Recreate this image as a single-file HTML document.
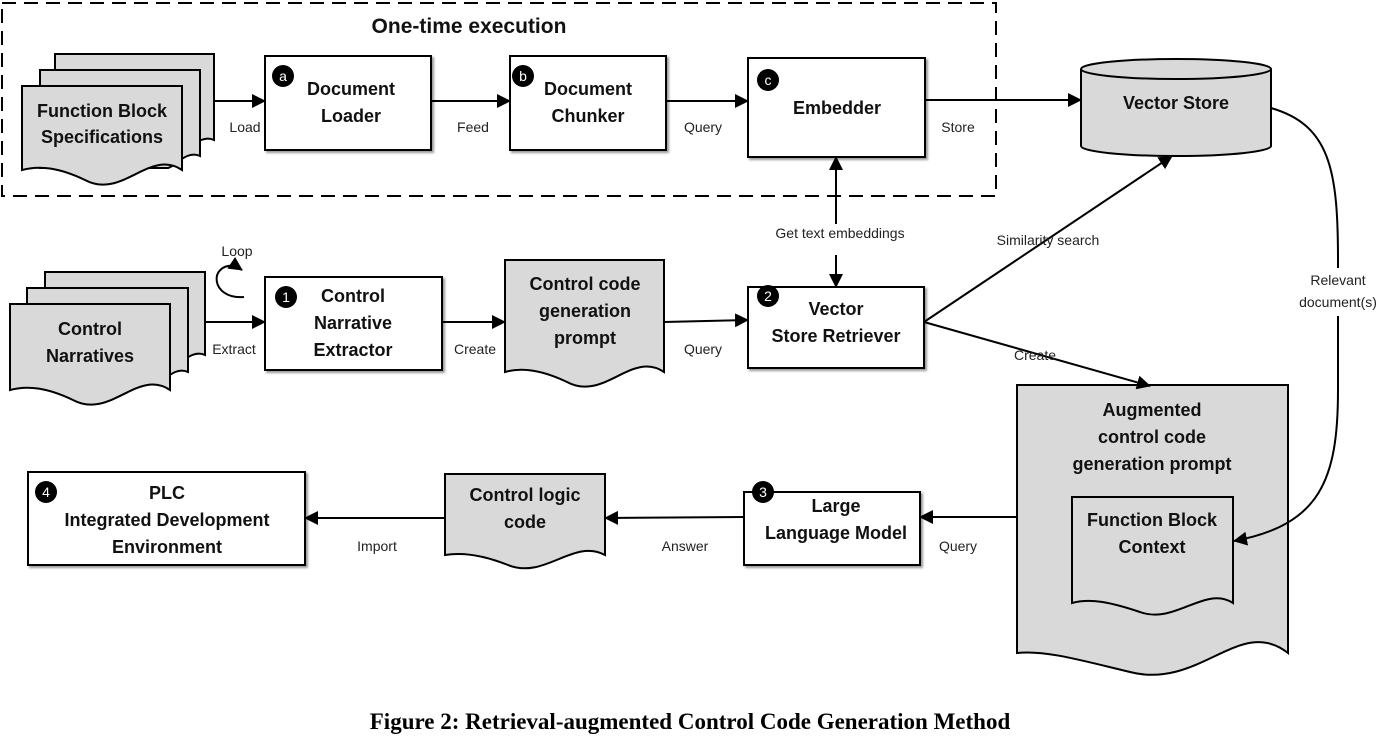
<!DOCTYPE html>
<html><head><meta charset="utf-8"><style>
html,body{margin:0;padding:0;background:#fff;width:1380px;height:745px;overflow:hidden}
svg text{font-family:"Liberation Sans",sans-serif}
.b{font-weight:bold;font-size:18px;text-anchor:middle;fill:#111}
.l{font-size:14px;text-anchor:middle;fill:#222}
.n{font-size:14px;text-anchor:middle;fill:#fff}
</style></head><body>
<svg width="1380" height="745" viewBox="0 0 1380 745" xmlns="http://www.w3.org/2000/svg">
<defs>
<marker id="ar2" markerWidth="14" markerHeight="14" refX="13" refY="7" orient="auto" markerUnits="userSpaceOnUse">
<path d="M0,0 L14,7 L0,14 z" fill="#000"/></marker>
</defs>
<rect x="2" y="3" width="994" height="193" fill="none" stroke="#000" stroke-width="2" stroke-dasharray="14,8"/>
<text x="469" y="33" class="b" style="font-size:21px">One-time execution</text>

<g fill="#d9d9d9" stroke="#000" stroke-width="2">
<path d="M55,54 H214 V140 C200,134 190,150 182,152 L55,152 Z"/>
<path d="M40,70 H200 V156 C186,150 176,166 168,168 L40,168 Z"/>
<path d="M22,86 H182 V170 C150,148 122,200 85,180 C60,168 40,165 22,170 Z"/>
<path d="M45,272 H205 V355 C191,349 181,365 173,367 L45,367 Z"/>
<path d="M27,288 H188 V372 C174,366 164,382 156,384 L27,384 Z"/>
<path d="M10,304 H170 V390 C138,368 110,420 73,400 C48,388 28,385 10,390 Z"/>
<path d="M505,260 H664 V372 C632,350 604,402 567,382 C542,370 522,367 505,372 Z"/>
<path d="M445,474 H605 V555 C573,538 545,580 508,565 C483,555 463,552 445,555 Z"/>
<path d="M1017,385 H1288 V653 C1240,615 1200,690 1130,672 C1080,660 1045,650 1017,653 Z"/>
<path d="M1072,497 H1233 V603 C1205,585 1175,625 1140,612 C1110,602 1090,598 1072,603 Z"/>
<path d="M1081,69 V146 A95,10 0 0 0 1271,146 V69" />
<ellipse cx="1176" cy="69" rx="95" ry="10"/>
</g>

<g fill="#fff" stroke="#000" stroke-width="2" style="filter:drop-shadow(2px 2px 1px #999)">
<rect x="265" y="56" width="166" height="94"/>
<rect x="510" y="56" width="156" height="94"/>
<rect x="748" y="58" width="177" height="99"/>
<rect x="265" y="277" width="177" height="93"/>
<rect x="748" y="287" width="176" height="81"/>
<rect x="744" y="492" width="176" height="73"/>
<rect x="28" y="472" width="277" height="93"/>
</g>

<g fill="#000">
<circle cx="283" cy="76" r="11"/><circle cx="523" cy="76" r="11"/><circle cx="768" cy="80" r="11"/>
<circle cx="286" cy="297" r="11"/><circle cx="768" cy="296" r="11"/><circle cx="763" cy="492" r="11"/><circle cx="46" cy="492" r="11"/>
</g>
<text x="283" y="81" class="n">a</text><text x="523" y="81" class="n">b</text><text x="768" y="85" class="n">c</text>
<text x="286" y="302" class="n">1</text><text x="768" y="301" class="n">2</text><text x="763" y="497" class="n">3</text><text x="46" y="497" class="n">4</text>

<g stroke="#000" stroke-width="2" fill="none">
<line x1="214" y1="101" x2="265" y2="101" marker-end="url(#ar2)"/>
<line x1="431" y1="101" x2="510" y2="101" marker-end="url(#ar2)"/>
<line x1="666" y1="101" x2="748" y2="101" marker-end="url(#ar2)"/>
<line x1="925" y1="100" x2="1081" y2="100" marker-end="url(#ar2)"/>
<line x1="836" y1="180" x2="836" y2="157" marker-end="url(#ar2)"/>
<line x1="836" y1="240" x2="836" y2="180"/>
<line x1="836" y1="255" x2="836" y2="287" marker-end="url(#ar2)"/>
<line x1="205" y1="322" x2="265" y2="322" marker-end="url(#ar2)"/>
<line x1="442" y1="322" x2="505" y2="322" marker-end="url(#ar2)"/>
<line x1="664" y1="322" x2="748" y2="320" marker-end="url(#ar2)"/>
<line x1="924" y1="322" x2="1172" y2="156" marker-end="url(#ar2)"/>
<line x1="924" y1="322" x2="1150" y2="386" marker-end="url(#ar2)"/>
<path d="M1271,108 C1330,125 1338,170 1338,260 V390 C1338,480 1320,525 1234,541" marker-end="url(#ar2)"/>
<line x1="1017" y1="517" x2="920" y2="517" marker-end="url(#ar2)"/>
<line x1="744" y1="517" x2="605" y2="518" marker-end="url(#ar2)"/>
<line x1="445" y1="518" x2="305" y2="518" marker-end="url(#ar2)"/>
<path d="M244,297 C210,300 208,262 236,266 L242,270" marker-end="url(#ar2)"/>
</g>
<rect x="1300" y="268" width="78" height="48" fill="#fff"/>
<rect x="760" y="224" width="160" height="18" fill="#fff"/>

<g class="b">
<text x="102" y="117" class="b">Function Block</text><text x="102" y="143" class="b">Specifications</text>
<text x="351" y="95" class="b">Document</text><text x="351" y="122" class="b">Loader</text>
<text x="588" y="95" class="b">Document</text><text x="588" y="122" class="b">Chunker</text>
<text x="837" y="114" class="b">Embedder</text>
<text x="1176" y="109" class="b">Vector Store</text>
<text x="90" y="335" class="b">Control</text><text x="90" y="362" class="b">Narratives</text>
<text x="353" y="302" class="b">Control</text><text x="353" y="329" class="b">Narrative</text><text x="353" y="356" class="b">Extractor</text>
<text x="585" y="290" class="b">Control code</text><text x="585" y="317" class="b">generation</text><text x="585" y="344" class="b">prompt</text>
<text x="836" y="315" class="b">Vector</text><text x="836" y="342" class="b">Store Retriever</text>
<text x="1152" y="416" class="b">Augmented</text><text x="1152" y="443" class="b">control code</text><text x="1152" y="470" class="b">generation prompt</text>
<text x="1152" y="526" class="b">Function Block</text><text x="1152" y="553" class="b">Context</text>
<text x="836" y="512" class="b">Large</text><text x="836" y="539" class="b">Language Model</text>
<text x="525" y="501" class="b">Control logic</text><text x="525" y="528" class="b">code</text>
<text x="167" y="499" class="b">PLC</text><text x="167" y="526" class="b">Integrated Development</text><text x="167" y="553" class="b">Environment</text>
</g>
<g>
<text x="245" y="132" class="l">Load</text><text x="473" y="132" class="l">Feed</text><text x="703" y="132" class="l">Query</text>
<text x="958" y="132" class="l">Store</text>
<text x="840" y="238" class="l">Get text embeddings</text>
<text x="1048" y="245" class="l">Similarity search</text>
<text x="1338" y="285" class="l">Relevant</text><text x="1338" y="307" class="l">document(s)</text>
<text x="237" y="256" class="l">Loop</text>
<text x="234" y="354" class="l">Extract</text><text x="475" y="354" class="l">Create</text><text x="703" y="354" class="l">Query</text>
<text x="1035" y="360" class="l">Create</text>
<text x="958" y="551" class="l">Query</text><text x="685" y="551" class="l">Answer</text><text x="377" y="551" class="l">Import</text>
</g>
<text x="690" y="729" style="font-family:'Liberation Serif',serif;font-weight:bold;font-size:23px;text-anchor:middle">Figure 2: Retrieval-augmented Control Code Generation Method</text>
</svg>
</body></html>
